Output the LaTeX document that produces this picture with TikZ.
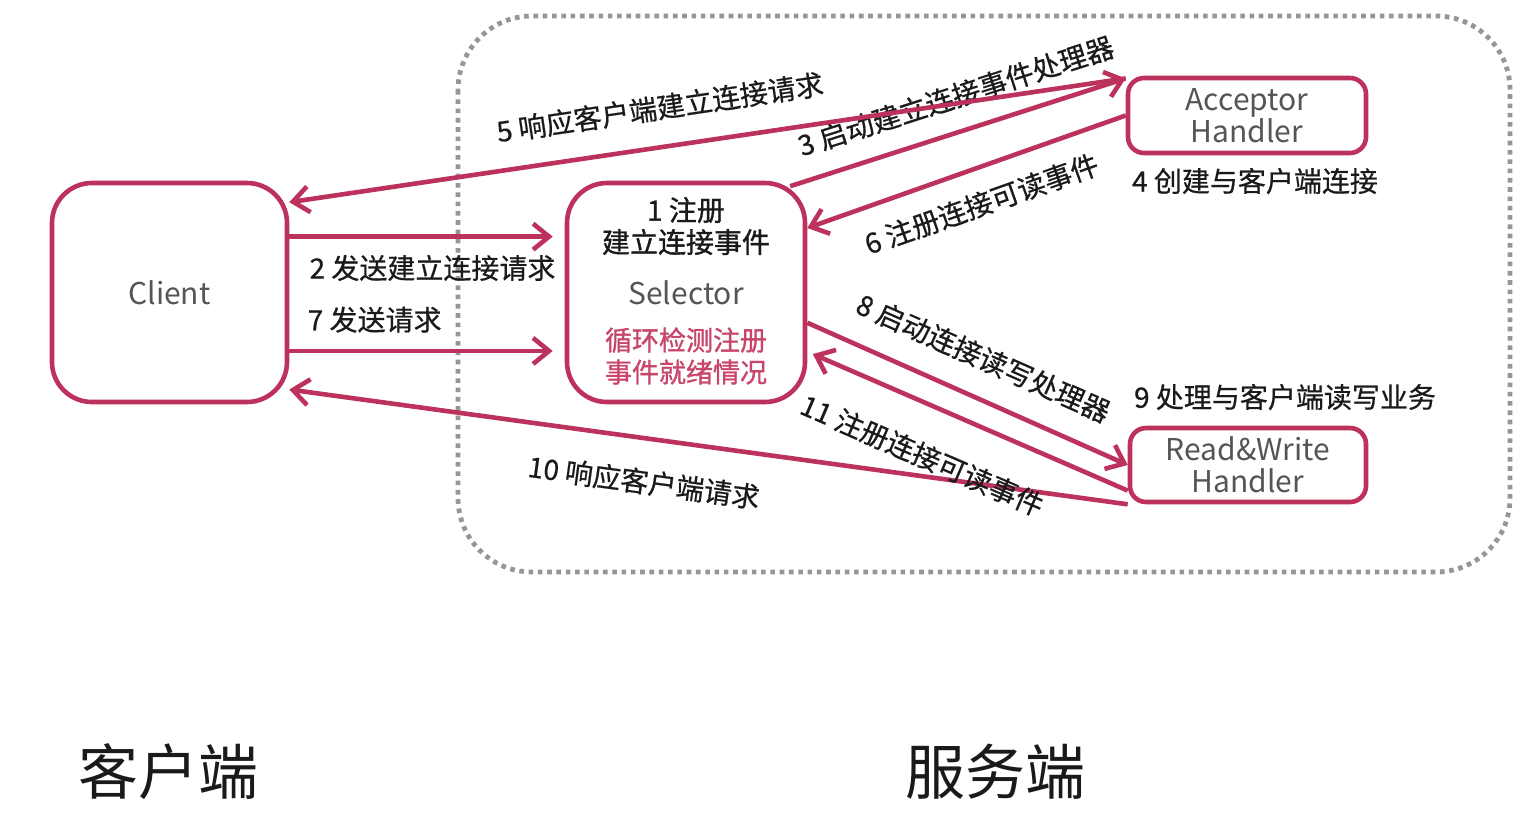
\documentclass[tikz,border=0pt]{standalone}
\usepackage{fontspec}
\setmainfont{Noto Sans CJK SC}
\newfontfamily\labelfont{Noto Sans CJK SC}[FakeBold=0.6]
\newfontfamily\strongfont{Noto Sans CJK SC}[FakeBold=1.2]
\usetikzlibrary{arrows.meta, positioning}
\definecolor{reactorred}{HTML}{BC325D}
\definecolor{reactorpink}{HTML}{C8466C}
\definecolor{reactorgray}{HTML}{555555}
\definecolor{reactordots}{HTML}{969696}
\definecolor{reactordark}{HTML}{1A1A1A}

\begin{document}
\begin{tikzpicture}[x=0.5pt, y=-0.5pt,
  box/.style={draw=reactorred, line width=2.3pt, fill=white, inner sep=0pt,
    align=center, text=reactorgray, font=\fontsize{15}{16}\selectfont},
  arr/.style={draw=reactorred, line width=2.3pt,
    -{Straight Barb[length=8pt,width=13pt]}},
  lbl/.style={text=reactordark, font=\fontsize{14}{16}\labelfont, inner sep=0pt}]
  \useasboundingbox[fill=white] (0,0) rectangle (1536,832);

  % Server side frame
  \draw[reactordots, line width=2.4pt, dash pattern=on 2.3pt off 2.35pt,
    rounded corners=37pt] (458,16) rectangle (1510,572);

  % Client
  \node[box, rounded corners=20pt, minimum width=117.5pt, minimum height=109.5pt]
    (client) at (169.5,292.5) {Client};

  % Selector
  \node[box, rounded corners=20pt, minimum width=119pt, minimum height=109.5pt]
    (selector) at (686,292.5) {Selector};
  \node[lbl, font=\fontsize{14}{16}\strongfont, align=center] (selreg) at (686,226)
    {1 注册\\建立连接事件};
  \node[lbl, font=\fontsize{13.5}{16}\strongfont, text=reactorpink, align=center]
    (selloop) at (686,356) {循环检测注册\\事件就绪情况};

  % Handlers
  \node[box, rounded corners=8pt, minimum width=119pt, minimum height=37.5pt]
    (acc) at (1247,115.5) {Acceptor\\Handler};
  \node[box, rounded corners=8pt, minimum width=118pt, minimum height=37pt]
    (rw) at (1248,465) {Read\&Write\\Handler};
  \node[lbl] (accnote) at (1255,181) {4 创建与客户端连接};
  \node[lbl] (rwnote) at (1285,397) {9 处理与客户端读写业务};

  % Connection setup
  \draw[arr, shorten >=6pt] (client.25) -- node[lbl, pos=0.52, below=8pt] {2 发送建立连接请求}
    (client.25 -| selector.west);
  \draw[arr, shorten <=-9pt] (selector.north east) -- node[lbl, sloped, pos=0.5, above=10pt] {3 启动建立连接事件处理器}
    (acc.163);
  \draw[arr] (acc.163) -- node[lbl, sloped, pos=0.55, above=12pt] {5 响应客户端建立连接请求}
    (client.37);
  \draw[arr] (acc.west) -- node[lbl, sloped, pos=0.49, below=10pt] {6 注册连接可读事件}
    (selector.28);

  % Read and write
  \draw[arr, shorten >=6pt] (client.-26) -- node[lbl, pos=0.31, above=8pt] {7 发送请求}
    (client.-26 -| selector.west);
  \draw[arr] (selector.-14) -- node[lbl, sloped, pos=0.5, above=12pt] {8 启动连接读写处理器}
    (rw.west);
  \draw[arr] (rw.south west) -- node[lbl, sloped, pos=0.57, below=14pt] {10 响应客户端请求}
    (client.-39);
  \draw[arr, shorten >=3pt] (rw.192) -- node[lbl, sloped, pos=0.58, below=17pt] {11 注册连接可读事件}
    (selector.-26);

  % Titles
  \node[text=reactordark, font=\fontsize{30}{32}\selectfont] (clienttitle) at (168,772) {客户端};
  \node[text=reactordark, font=\fontsize{30}{32}\selectfont] (servertitle) at (995,772) {服务端};
\end{tikzpicture}
\end{document}
